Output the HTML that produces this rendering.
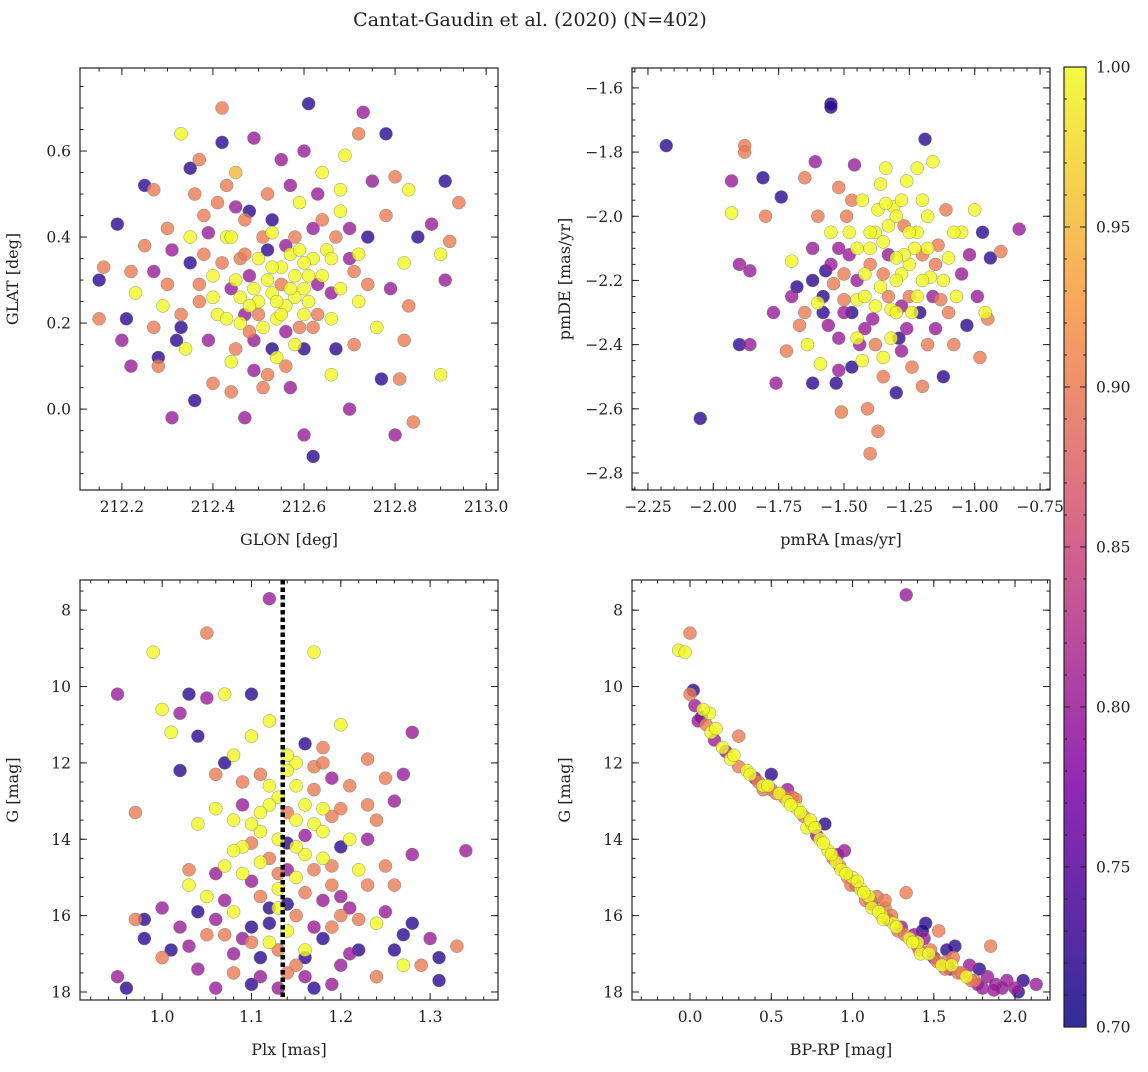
<!DOCTYPE html>
<html><head><meta charset="utf-8"><style>
body{margin:0;background:#fff;}
svg text{font-family:"DejaVu Serif","Liberation Serif",serif;fill:#222;}
</style></head><body>
<svg id="fig" width="1148" height="1067" viewBox="0 0 1148 1067" xmlns="http://www.w3.org/2000/svg">
<text x="530" y="26" font-size="19" text-anchor="middle">Cantat-Gaudin et al. (2020) (N=402)</text>
<defs><linearGradient id="plasma" x1="0" y1="1" x2="0" y2="0">
<stop offset="0" stop-color="#0d0887"/><stop offset="0.25" stop-color="#7e03a8"/><stop offset="0.5" stop-color="#cc4778"/><stop offset="0.75" stop-color="#f89540"/><stop offset="1" stop-color="#f0f921"/></linearGradient></defs>
</svg>
<script>
const glonGlat=[[212.15,0.30,0.72],[212.16,0.33,0.9],[212.15,0.21,0.9],[212.19,0.43,0.72],[212.20,0.16,0.8],[212.21,0.21,0.72],[212.22,0.10,0.8],[212.23,0.27,1.0],[212.25,0.52,0.72],[212.27,0.51,0.9],[212.27,0.32,0.8],[212.27,0.19,0.9],[212.28,0.12,0.72],[212.28,0.10,0.9],[212.29,0.24,1.0],[212.30,0.42,0.9],[212.30,0.29,0.9],[212.31,-0.02,0.8],[212.32,0.16,0.72],[212.33,0.64,1.0],[212.33,0.19,0.72],[212.34,0.14,1.0],[212.35,0.56,0.72],[212.35,0.34,0.72],[212.36,0.02,0.72],[212.37,0.25,0.9],[212.38,0.45,0.9],[212.39,0.41,0.8],[212.40,0.06,0.9],[212.40,0.31,1.0],[212.41,0.22,1.0],[212.42,0.70,0.9],[212.42,0.62,0.72],[212.43,0.52,0.9],[212.43,0.40,1.0],[212.44,0.28,0.8],[212.44,0.04,0.9],[212.45,0.14,0.9],[212.45,0.55,0.95],[212.46,0.35,0.9],[212.47,0.22,0.8],[212.47,-0.02,0.8],[212.48,0.46,0.72],[212.48,0.18,0.9],[212.49,0.09,0.8],[212.50,0.25,1.0],[212.51,0.40,0.9],[212.52,0.30,1.0],[212.52,0.08,0.9],[212.53,0.44,0.72],[212.54,0.21,1.0],[212.55,0.58,0.8],[212.55,0.33,1.0],[212.56,0.18,0.8],[212.57,0.05,0.8],[212.57,0.36,1.0],[212.58,0.26,1.0],[212.59,0.48,1.0],[212.60,-0.06,0.8],[212.60,0.14,0.72],[212.61,0.71,0.72],[212.61,0.31,1.0],[212.62,0.42,0.8],[212.62,-0.11,0.72],[212.63,0.22,0.9],[212.64,0.55,1.0],[212.65,0.37,1.0],[212.66,0.27,0.8],[212.67,0.14,0.72],[212.68,0.46,1.0],[212.69,0.59,1.0],[212.70,0.00,0.8],[212.71,0.32,0.9],[212.72,0.64,0.9],[212.72,0.25,1.0],[212.73,0.69,0.8],[212.74,0.40,0.72],[212.75,0.53,0.8],[212.76,0.19,1.0],[212.77,0.07,0.72],[212.78,0.64,0.72],[212.79,0.28,0.8],[212.80,0.54,0.9],[212.80,-0.06,0.8],[212.81,0.07,0.9],[212.82,0.34,1.0],[212.83,0.24,0.9],[212.83,0.51,1.0],[212.84,-0.03,0.9],[212.85,0.40,0.72],[212.88,0.43,0.8],[212.90,0.36,1.0],[212.91,0.53,0.72],[212.92,0.39,0.9],[212.91,0.30,0.8],[212.94,0.48,0.9],[212.90,0.08,1.0],[212.50,0.35,1.0],[212.53,0.27,1.0],[212.56,0.24,1.0],[212.58,0.31,1.0],[212.60,0.28,1.0],[212.62,0.35,1.0],[212.55,0.29,0.9],[212.48,0.31,0.8],[212.51,0.19,1.0],[212.46,0.26,1.0],[212.58,0.40,0.9],[212.63,0.29,0.8],[212.52,0.37,0.72],[212.66,0.21,1.0],[212.40,0.26,1.0],[212.38,0.36,0.9],[212.44,0.40,1.0],[212.70,0.35,0.8],[212.68,0.28,1.0],[212.54,0.12,1.0],[212.59,0.19,0.9],[212.47,0.44,0.9],[212.64,0.44,0.9],[212.35,0.40,1.0],[212.57,0.52,0.8],
[212.45,0.30,1.0],[212.49,0.28,1.0],[212.53,0.33,1.0],[212.57,0.28,1.0],[212.61,0.25,1.0],[212.55,0.22,1.0],[212.50,0.22,0.9],[212.47,0.36,0.9],[212.56,0.38,0.8],[212.60,0.34,1.0],[212.64,0.31,1.0],[212.53,0.41,1.0],[212.49,0.16,0.8],[212.58,0.15,1.0],[212.62,0.19,0.9],[212.66,0.35,1.0],[212.42,0.34,0.9],[212.43,0.21,1.0],[212.37,0.29,0.9],[212.33,0.22,0.9],[212.70,0.42,0.8],[212.72,0.36,1.0],[212.74,0.29,0.9],[212.68,0.51,1.0],[212.63,0.50,0.8],[212.52,0.50,0.9],[212.45,0.47,0.8],[212.41,0.48,0.9],[212.36,0.50,0.9],[212.31,0.37,0.8],[212.25,0.38,0.9],[212.22,0.32,0.9],[212.56,0.10,0.9],[212.51,0.05,0.9],[212.66,0.08,1.0],[212.71,0.15,0.9],[212.78,0.45,0.9],[212.82,0.16,0.9],[212.60,0.60,0.8],[212.49,0.63,0.8],[212.37,0.58,0.9],[212.44,0.11,1.0],[212.39,0.16,0.8],[212.53,0.14,0.72],[212.67,0.40,0.9],[212.59,0.37,1.0],[212.54,0.25,1.0],[212.48,0.24,1.0],[212.46,0.20,1.0],[212.60,0.22,1.0]];
const pmraPmde=[[-2.18,-1.78,0.72],[-2.05,-2.63,0.72],[-1.93,-1.89,0.8],[-1.93,-1.99,1.0],[-1.90,-2.15,0.8],[-1.90,-2.40,0.72],[-1.88,-1.78,0.9],[-1.88,-1.80,0.9],[-1.86,-2.17,0.8],[-1.86,-2.40,0.8],[-1.81,-1.88,0.72],[-1.80,-2.00,0.9],[-1.77,-2.30,0.8],[-1.76,-2.52,0.8],[-1.74,-1.94,0.72],[-1.72,-2.42,0.9],[-1.70,-2.14,1.0],[-1.68,-2.22,0.72],[-1.67,-2.34,0.9],[-1.65,-1.88,0.9],[-1.64,-2.40,1.0],[-1.62,-2.52,0.72],[-1.62,-2.10,0.8],[-1.61,-1.83,0.8],[-1.60,-2.27,1.0],[-1.59,-2.46,1.0],[-1.57,-2.17,0.72],[-1.56,-2.34,0.8],[-1.55,-1.65,0.72],[-1.55,-1.66,0.72],[-1.55,-2.05,1.0],[-1.54,-2.21,0.9],[-1.53,-2.52,0.72],[-1.52,-1.91,0.9],[-1.51,-2.61,0.9],[-1.50,-2.30,0.8],[-1.49,-2.00,0.9],[-1.48,-2.12,0.8],[-1.47,-2.47,0.72],[-1.46,-1.84,0.8],[-1.45,-2.26,1.0],[-1.44,-2.40,0.8],[-1.43,-1.95,1.0],[-1.42,-2.18,1.0],[-1.41,-2.60,0.9],[-1.40,-2.74,0.9],[-1.39,-2.32,0.8],[-1.38,-2.05,1.0],[-1.37,-2.67,0.9],[-1.36,-2.22,1.0],[-1.35,-2.44,1.0],[-1.34,-1.85,1.0],[-1.33,-2.12,0.8],[-1.32,-2.29,1.0],[-1.31,-1.97,1.0],[-1.30,-2.55,0.72],[-1.29,-2.38,0.72],[-1.28,-2.18,1.0],[-1.27,-2.03,0.9],[-1.26,-1.89,1.0],[-1.25,-2.25,0.9],[-1.24,-2.47,0.9],[-1.23,-2.10,1.0],[-1.22,-1.85,1.0],[-1.21,-2.30,0.72],[-1.20,-2.53,0.9],[-1.19,-1.76,0.72],[-1.18,-2.00,1.0],[-1.17,-2.19,1.0],[-1.16,-1.83,1.0],[-1.15,-2.35,0.8],[-1.14,-2.09,0.9],[-1.13,-2.26,0.9],[-1.12,-2.50,0.72],[-1.11,-1.98,0.9],[-1.10,-2.13,1.0],[-1.08,-2.40,0.9],[-1.07,-2.25,1.0],[-1.05,-2.05,1.0],[-1.03,-2.34,0.72],[-1.02,-2.12,0.8],[-1.00,-1.98,1.0],[-0.99,-2.25,0.8],[-0.98,-2.44,0.9],[-0.97,-2.05,0.72],[-0.96,-2.30,1.0],[-0.95,-2.32,0.9],[-0.94,-2.13,0.72],[-0.90,-2.11,0.9],[-0.83,-2.04,0.8],[-1.45,-2.10,1.0],[-1.40,-2.15,0.9],[-1.35,-2.08,1.0],[-1.30,-2.20,1.0],[-1.28,-2.28,0.8],[-1.33,-2.25,0.9],[-1.38,-2.28,1.0],[-1.25,-2.15,1.0],[-1.20,-2.20,1.0],[-1.50,-2.18,0.9],[-1.52,-2.10,0.8],[-1.47,-2.30,0.72],[-1.42,-2.35,0.8],[-1.37,-1.98,1.0],[-1.22,-2.05,1.0],[-1.15,-2.15,0.9],[-1.58,-2.25,0.72],[-1.43,-2.45,1.0],[-1.30,-2.00,1.0],[-1.26,-2.35,0.8],
[-1.40,-2.05,1.0],[-1.33,-2.03,1.0],[-1.27,-2.12,1.0],[-1.22,-2.25,1.0],[-1.18,-2.10,1.0],[-1.30,-2.30,1.0],[-1.35,-2.18,0.9],[-1.45,-2.20,0.8],[-1.48,-2.05,1.0],[-1.42,-2.25,1.0],[-1.32,-2.38,1.0],[-1.55,-2.15,0.8],[-1.58,-2.30,0.72],[-1.52,-2.38,0.8],[-1.25,-2.05,1.0],[-1.20,-1.95,1.0],[-1.12,-2.20,1.0],[-1.10,-2.30,0.9],[-1.05,-2.18,0.8],[-1.28,-1.95,1.0],[-1.36,-1.90,1.0],[-1.62,-2.20,0.72],[-1.65,-2.30,0.9],[-1.70,-2.25,0.8],[-1.60,-2.00,0.9],[-1.47,-1.95,0.9],[-1.38,-2.40,0.9],[-1.45,-2.38,1.0],[-1.28,-2.42,0.8],[-1.18,-2.40,0.9],[-1.50,-2.26,0.9],[-1.40,-2.10,1.0],[-1.30,-2.13,1.0],[-1.24,-2.30,1.0],[-1.16,-2.25,0.8],[-1.34,-1.96,1.0],[-1.52,-2.48,0.8],[-1.35,-2.50,0.9],[-1.20,-2.12,0.9],[-1.08,-2.05,1.0]];
const plxG=[[0.95,10.2,0.8],[0.95,17.6,0.8],[0.96,17.9,0.72],[0.97,16.1,0.9],[0.97,13.3,0.9],[0.98,16.6,0.72],[0.98,16.1,0.72],[0.99,9.1,1.0],[1.0,10.6,1.0],[1.0,17.1,0.9],[1.01,11.2,1.0],[1.01,16.9,0.72],[1.02,12.2,0.72],[1.02,10.7,0.8],[1.03,10.2,0.72],[1.03,14.8,0.9],[1.03,16.8,0.8],[1.04,11.3,0.72],[1.04,13.6,1.0],[1.04,17.4,0.8],[1.05,8.6,0.9],[1.05,10.3,0.8],[1.05,15.5,1.0],[1.06,16.1,0.8],[1.07,10.2,1.0],[1.07,12.0,0.72],[1.07,14.7,1.0],[1.08,15.9,1.0],[1.08,17.0,0.8],[1.08,11.8,1.0],[1.09,13.1,0.8],[1.09,14.2,1.0],[1.10,10.2,0.72],[1.10,11.3,1.0],[1.10,15.1,0.8],[1.10,16.7,0.9],[1.10,17.8,0.72],[1.11,12.3,0.9],[1.11,13.8,1.0],[1.12,7.7,0.8],[1.12,10.9,1.0],[1.12,14.5,0.9],[1.12,16.2,0.72],[1.13,12.9,1.0],[1.13,15.3,1.0],[1.13,17.9,0.8],[1.14,13.3,0.9],[1.14,14.1,0.72],[1.14,16.4,1.0],[1.15,12.6,1.0],[1.15,15.0,1.0],[1.16,11.5,0.72],[1.16,13.9,0.8],[1.16,16.9,1.0],[1.17,9.1,1.0],[1.17,12.1,0.9],[1.17,14.8,0.9],[1.17,17.9,0.72],[1.18,11.6,0.9],[1.18,13.2,1.0],[1.18,15.6,0.8],[1.19,12.4,0.8],[1.19,16.3,0.9],[1.20,11.0,1.0],[1.20,14.2,0.72],[1.20,17.3,0.8],[1.21,12.6,0.9],[1.21,15.8,0.8],[1.22,16.9,0.72],[1.23,11.9,0.9],[1.23,14.0,0.8],[1.24,16.2,1.0],[1.24,17.6,0.9],[1.25,12.4,0.9],[1.25,15.9,0.8],[1.26,13.0,0.8],[1.26,16.9,0.72],[1.27,12.3,0.8],[1.27,16.5,0.72],[1.28,11.2,0.8],[1.28,16.2,0.72],[1.29,17.3,0.9],[1.30,16.6,0.8],[1.31,17.7,0.72],[1.33,16.8,0.9],[1.34,14.3,0.8],[1.27,17.3,1.0],[1.31,17.1,0.72],[1.09,14.9,1.0],[1.11,15.5,0.9],[1.12,13.1,1.0],[1.13,14.0,1.0],[1.14,14.8,0.8],[1.15,13.5,1.0],[1.15,16.0,0.9],[1.16,14.4,1.0],[1.17,13.6,1.0],[1.18,14.5,1.0],[1.19,15.2,0.9],[1.12,15.8,0.72],[1.10,16.3,0.72],[1.13,16.9,0.9],[1.16,17.6,0.8],[1.08,13.5,1.0],[1.06,14.9,0.8],[1.15,12.0,1.0],[1.20,13.2,0.9],[1.22,14.8,1.0],[1.11,17.1,0.72],[1.14,17.5,0.9],
[1.05,16.5,0.9],[1.06,13.2,1.0],[1.07,15.6,0.8],[1.08,14.3,1.0],[1.09,16.6,0.8],[1.10,13.6,1.0],[1.11,14.6,1.0],[1.12,12.6,1.0],[1.13,15.8,1.0],[1.14,12.2,1.0],[1.15,14.2,1.0],[1.16,15.4,0.9],[1.17,16.3,0.8],[1.18,13.8,1.0],[1.19,14.7,0.9],[1.20,15.5,0.8],[1.21,14.0,1.0],[1.22,16.1,0.9],[1.23,15.2,0.9],[1.24,13.5,0.9],[1.08,17.5,0.9],[1.11,17.6,0.8],[1.16,17.1,0.72],[1.19,17.8,0.8],[1.21,17.0,0.8],[1.04,15.9,0.72],[1.02,16.3,0.8],[1.06,17.9,0.8],[1.00,15.8,0.8],[1.14,15.7,0.72],[1.13,14.9,0.9],[1.11,13.3,1.0],[1.09,12.5,0.9],[1.17,12.7,0.9],[1.19,13.4,0.9],[1.23,13.1,0.9],[1.26,15.2,0.9],[1.28,14.4,0.8],[1.25,14.7,0.9],[1.18,16.6,0.72],[1.15,17.3,0.9],[1.12,16.7,1.0],[1.07,16.5,0.9],[1.10,14.1,0.9],[1.16,13.1,1.0],[1.14,11.8,1.0],[1.18,12.0,0.9],[1.06,12.3,0.9],[1.03,15.2,1.0],[1.20,16.0,0.9]];
const bprpG=[[-0.07,9.05,1.0],[-0.03,9.1,1.0],[0.0,8.6,0.9],[0.0,10.2,0.9],[0.02,10.1,0.72],[0.03,10.5,0.8],[0.05,10.9,0.8],[0.07,10.8,0.72],[0.1,11.0,0.9],[0.12,10.7,1.0],[0.13,11.2,1.0],[0.15,11.4,0.8],[0.2,11.6,1.0],[0.25,11.9,1.0],[0.3,11.3,0.9],[0.3,12.1,0.9],[0.35,12.2,1.0],[0.4,12.4,0.8],[0.45,12.6,1.0],[0.5,12.7,0.9],[0.5,12.3,0.72],[0.55,12.8,1.0],[0.6,13.0,1.0],[0.63,12.9,0.9],[0.66,13.2,1.0],[0.7,13.4,0.9],[0.72,13.7,1.0],[0.75,13.6,1.0],[0.78,13.9,0.8],[0.8,14.0,1.0],[0.83,13.6,0.72],[0.85,14.3,1.0],[0.88,14.5,0.9],[0.9,14.6,1.0],[0.93,14.8,1.0],[0.95,14.3,0.8],[0.97,15.0,0.9],[1.0,15.0,1.0],[1.02,15.2,0.8],[1.05,15.3,1.0],[1.08,15.6,0.9],[1.1,15.5,1.0],[1.12,15.8,1.0],[1.15,15.5,0.9],[1.18,16.0,1.0],[1.2,15.8,0.9],[1.22,16.1,0.8],[1.25,16.2,1.0],[1.28,16.4,0.9],[1.3,16.3,0.8],[1.33,15.4,0.9],[1.33,7.6,0.8],[1.35,16.6,1.0],[1.38,16.5,0.8],[1.4,16.8,0.9],[1.42,17.0,1.0],[1.45,16.2,0.72],[1.48,16.9,0.9],[1.5,17.1,0.8],[1.53,16.4,0.9],[1.55,17.3,1.0],[1.58,17.2,0.9],[1.6,17.4,0.8],[1.63,16.8,0.72],[1.65,17.5,0.9],[1.7,17.6,1.0],[1.72,17.3,0.8],[1.75,17.7,0.9],[1.78,17.4,0.72],[1.8,17.9,0.8],[1.83,17.6,0.8],[1.85,16.8,0.9],[1.88,17.8,0.8],[1.92,17.9,0.8],[1.95,17.7,0.8],[2.0,17.9,0.8],[2.02,18.0,0.72],[2.05,17.7,0.72],[2.13,17.8,0.8],[0.58,12.9,0.9],[0.68,13.3,1.0],[0.92,14.7,0.9],[1.12,15.7,0.8],[1.4,16.7,1.0],[0.22,11.7,0.8],[0.45,12.7,0.9],[0.82,14.1,1.0],[1.62,17.1,0.9],
[0.08,10.6,1.0],[0.16,11.1,1.0],[0.27,11.8,1.0],[0.37,12.3,1.0],[0.42,12.5,0.9],[0.48,12.6,1.0],[0.53,12.8,0.9],[0.62,13.1,1.0],[0.65,12.95,0.9],[0.74,13.5,1.0],[0.77,13.7,1.0],[0.87,14.4,1.0],[0.91,14.4,0.8],[0.96,14.9,1.0],[0.99,15.2,0.9],[1.03,15.1,1.0],[1.07,15.4,1.0],[1.11,15.6,0.9],[1.16,15.9,1.0],[1.19,16.1,1.0],[1.24,16.0,0.9],[1.27,16.3,1.0],[1.32,16.5,0.9],[1.37,16.7,1.0],[1.41,16.9,0.9],[1.44,16.6,0.8],[1.47,17.0,1.0],[1.52,17.2,0.9],[1.57,17.4,0.9],[1.61,17.3,1.0],[1.67,17.5,0.9],[1.73,17.7,0.9],[1.77,17.8,0.8],[1.87,17.95,0.8],[1.43,16.4,0.72],[1.58,16.9,0.72],[1.20,15.6,0.9],[0.60,12.7,0.8]];
const cbTicks=[0.70,0.75,0.80,0.85,0.90,0.95,1.00];
const vmin=0.7,vmax=1.0;
const svg=document.getElementById('fig');
const NS='http://www.w3.org/2000/svg';
function mk(tag,a,parent){const e=document.createElementNS(NS,tag);for(const k in a)e.setAttribute(k,a[k]);(parent||svg).appendChild(e);return e;}
const stops=[[13,8,135],[126,3,168],[204,71,120],[248,149,64],[240,249,33]];
function cmap(p){let t=Math.max(0,Math.min(1,(p-vmin)/(vmax-vmin)))*4;let i=Math.min(3,Math.floor(t)),f=t-i;const a=stops[i],b=stops[i+1];return `rgb(${a.map((v,k)=>Math.round(v+(b[k]-v)*f)).join(',')})`;}
function panel(name,box,xr,yr,xMaj,xMin,yMaj,yMin,xfmt,yfmt,data,xl,yl){
  const [L,T,R,B]=box;
  const sx=v=>L+(v-xr[0])/(xr[1]-xr[0])*(R-L);
  const sy=v=>T+(v-yr[1])/(yr[0]-yr[1])*(B-T);
  const g=mk('g',{});
  
  
  const sorted=data.slice().sort((a,b)=>a[2]-b[2]);
  sorted.forEach(d=>{const c=mk('circle',{cx:sx(d[0]),cy:sy(d[1]),r:6.5,fill:cmap(d[2]),'fill-opacity':0.8,stroke:'#777','stroke-width':0.4},g);
    
    });
  mk('rect',{x:L,y:T,width:R-L,height:B-T,fill:'none',stroke:'#222','stroke-width':1.2},g);
  const tickX=(arr,len)=>arr.forEach(v=>{const x=sx(v);if(x<L-0.5||x>R+0.5)return;mk('line',{x1:x,x2:x,y1:B,y2:B-len,stroke:'#222'},g);mk('line',{x1:x,x2:x,y1:T,y2:T+len,stroke:'#222'},g);});
  const tickY=(arr,len)=>arr.forEach(v=>{const y=sy(v);if(y<T-0.5||y>B+0.5)return;mk('line',{y1:y,y2:y,x1:L,x2:L+len,stroke:'#222'},g);mk('line',{y1:y,y2:y,x1:R,x2:R-len,stroke:'#222'},g);});
  const rng=(a,b,s)=>{const o=[];for(let v=Math.ceil(a/s-1e-6)*s;v<=b+1e-9;v+=s)o.push(+v.toFixed(6));return o;};
  const xs=rng(Math.min(...xr),Math.max(...xr),xMaj),xm=rng(Math.min(...xr),Math.max(...xr),xMin);
  const ys=rng(Math.min(...yr),Math.max(...yr),yMaj),ym=rng(Math.min(...yr),Math.max(...yr),yMin);
  tickX(xm,3.5);tickX(xs,7);tickY(ym,3.5);tickY(ys,7);
  xs.forEach(v=>{const t=mk('text',{x:sx(v),y:B+22,'font-size':15.5,'text-anchor':'middle'},g);t.textContent=xfmt(v);});
  ys.forEach(v=>{const t=mk('text',{x:L-9,y:sy(v)+5.5,'font-size':15.5,'text-anchor':'end'},g);t.textContent=yfmt(v);});
  const a=mk('text',{x:(L+R)/2,y:B+55,'font-size':16,'text-anchor':'middle'},g);a.textContent=xl;
  
  const b=mk('text',{x:0,y:0,'font-size':16,'text-anchor':'middle',transform:`translate(${L-62},${(T+B)/2}) rotate(-90)`},g);b.textContent=yl;
  
  return {sx,sy,g};
}
const neg=v=>(v<0?'\u2212':'')+Math.abs(v).toFixed(1);
panel('glon-glat-panel',[80,68,498,490],[212.108,213.026],[-0.188,0.793],0.2,0.05,0.2,0.05,v=>v.toFixed(1),v=>Math.abs(v)<1e-6?'0.0':neg(v),glonGlat,'GLON [deg]','GLAT [deg]');
panel('pm-panel',[632,68,1050,490],[-2.311,-0.712],[-2.853,-1.538],0.25,0.05,0.2,0.05,v=>'\u2212'+Math.abs(v).toFixed(2),v=>'\u2212'+Math.abs(v).toFixed(1),pmraPmde,'pmRA [mas/yr]','pmDE [mas/yr]');
const p3=panel('plx-g-panel',[80,580,498,1000],[0.908,1.376],[18.21,7.21],0.1,0.02,2,0.5,v=>v.toFixed(1),v=>String(Math.round(v)),plxG,'Plx [mas]','G [mag]');
const plxMedian=1.135;
const dl=mk('line',{x1:p3.sx(plxMedian),x2:p3.sx(plxMedian),y1:580,y2:1000,stroke:'#000','stroke-width':4.5,'stroke-dasharray':'4.5,3'});


panel('cmd-panel',[632,580,1050,1000],[-0.357,2.215],[18.21,7.21],0.5,0.1,2,0.5,v=>v.toFixed(1),v=>String(Math.round(v)),bprpG,'BP-RP [mag]','G [mag]');
const cb=mk('g',{});


const cT=67,cB=1027,cL=1064,cR=1086;
mk('rect',{x:cL,y:cT,width:cR-cL,height:cB-cT,fill:'url(#plasma)','fill-opacity':0.85},cb);
mk('rect',{x:cL,y:cT,width:cR-cL,height:cB-cT,fill:'none',stroke:'#222','stroke-width':1.2},cb);
const cy=v=>cB-(v-vmin)/(vmax-vmin)*(cB-cT);
for(let v=0.70;v<=1.0001;v+=0.01){const y=cy(v);mk('line',{x1:cR,x2:cR-3,y1:y,y2:y,stroke:'#222'},cb);mk('line',{x1:cL,x2:cL+3,y1:y,y2:y,stroke:'#222'},cb);}
cbTicks.forEach(v=>{const y=cy(v);mk('line',{x1:cR,x2:cR-6,y1:y,y2:y,stroke:'#222'},cb);mk('line',{x1:cL,x2:cL+6,y1:y,y2:y,stroke:'#222'},cb);
 const t=mk('text',{x:cR+10,y:y+5.5,'font-size':15.5},cb);t.textContent=v.toFixed(2);});
</script>
</body></html>
